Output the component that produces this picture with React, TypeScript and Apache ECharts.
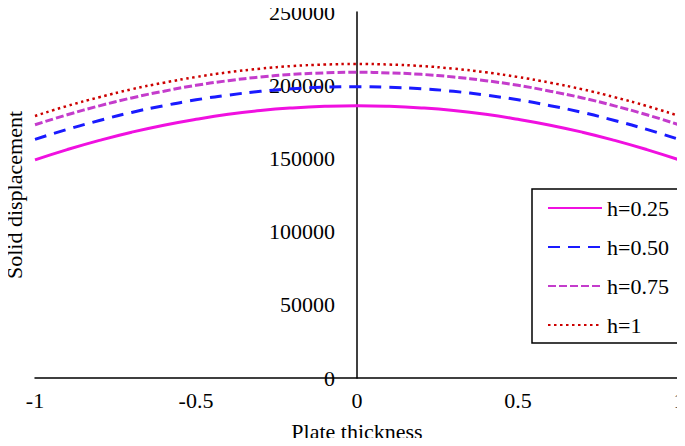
import React, { useEffect, useRef } from "react";
import * as echarts from "echarts";

const xValues = [-1, -0.9, -0.8, -0.7, -0.6, -0.5, -0.4, -0.3, -0.2, -0.1, 0, 0.1, 0.2, 0.3, 0.4, 0.5, 0.6, 0.7, 0.8, 0.9, 1];
const h025 = [149000, 156000, 162300, 167900, 172700, 176700, 180100, 182700, 184500, 185600, 186000, 185600, 184500, 182700, 180100, 176700, 172700, 167900, 162300, 156000, 149000];
const h050 = [163000, 169800, 175900, 181400, 186000, 190000, 193200, 195800, 197600, 198600, 199000, 198600, 197600, 195800, 193200, 190000, 186000, 181400, 175900, 169800, 163000];
const h075 = [173000, 179800, 185900, 191300, 195900, 199900, 203100, 205600, 207400, 208400, 208800, 208400, 207400, 205600, 203100, 199900, 195900, 191300, 185900, 179800, 173000];
const h100 = [179000, 185800, 191800, 197200, 201700, 205600, 208800, 211300, 213100, 214100, 214500, 214100, 213100, 211300, 208800, 205600, 201700, 197200, 191800, 185800, 179000];
const seriesNames = ["h=0.25", "h=0.50", "h=0.75", "h=1"];

const FONT = "'Liberation Serif', 'Times New Roman', serif";
const FS = 22;

export default function App() {
  const ref = useRef<HTMLDivElement>(null);
  useEffect(() => {
    if (!ref.current) return;
    const chart = echarts.init(ref.current, null, { renderer: "svg" });
    const pair = (ys: number[]) => xValues.map((x, i) => [x, ys[i]]);
    const mk = (name: string, ys: number[], color: string, width: number, type: any) => ({
      name,
      type: "line",
      data: pair(ys),
      smooth: true,
      symbol: "none",
      showSymbol: false,
      lineStyle: { color, width, type, cap: "butt" },
      itemStyle: { color },
    });
    const gridLeft = 35;
    const gridRight = 6;
    const plotWidth = 685 - gridLeft - gridRight;
    chart.setOption({
      animation: false,
      backgroundColor: "#ffffff",
      textStyle: { fontFamily: FONT },
      grid: { left: gridLeft, right: gridRight, top: 12, bottom: 68, containLabel: false, outerBoundsMode: "none" },
      xAxis: {
        type: "value",
        min: -1,
        max: 1,
        interval: 0.5,
        name: "Plate thickness",
        nameLocation: "middle",
        nameGap: 42,
        nameTextStyle: { fontFamily: FONT, fontSize: FS, color: "#000" },
        axisLine: { lineStyle: { color: "#000", width: 1.5 }, onZero: false },
        axisTick: { show: false },
        splitLine: { show: false },
        axisLabel: { fontFamily: FONT, fontSize: FS, color: "#000", margin: 11 },
      },
      yAxis: {
        type: "value",
        min: 0,
        max: 250000,
        interval: 50000,
        position: "left",
        offset: -plotWidth / 2,
        axisLine: { show: true, onZero: false, lineStyle: { color: "#000", width: 1.5 } },
        axisTick: { show: false },
        splitLine: { show: false },
        axisLabel: {
          fontFamily: FONT,
          fontSize: FS,
          color: "#000",
          margin: 22,
          formatter: (v: number) => String(v),
        },
      },
      legend: {
        orient: "vertical",
        left: 532,
        top: 189,
        data: seriesNames,
        itemWidth: 54,
        itemHeight: 22,
        itemGap: 17,
        padding: [8, 12, 7, 15],
        borderColor: "#000",
        borderWidth: 1.5,
        itemStyle: { opacity: 0 },
        textStyle: { fontFamily: FONT, fontSize: FS, color: "#000" },
      },
      graphic: [
        {
          type: "text",
          x: 14,
          y: 195,
          rotation: Math.PI / 2,
          style: {
            text: "Solid displacement",
            fontFamily: FONT,
            fontSize: FS,
            fill: "#000",
            textAlign: "center",
            textVerticalAlign: "middle",
          },
        },
      ],
      series: [
        mk(seriesNames[0], h025, "#f010e0", 3, "solid"),
        mk(seriesNames[1], h050, "#1a1aff", 3, [12, 8]),
        mk(seriesNames[2], h075, "#c43ccc", 3, [8, 3]),
        mk(seriesNames[3], h100, "#cc0000", 2.5, [2.5, 3.5]),
      ],
    });
    return () => chart.dispose();
  }, []);
  return <div ref={ref} style={{ width: 685, height: 446, margin: -8 }} />;
}
